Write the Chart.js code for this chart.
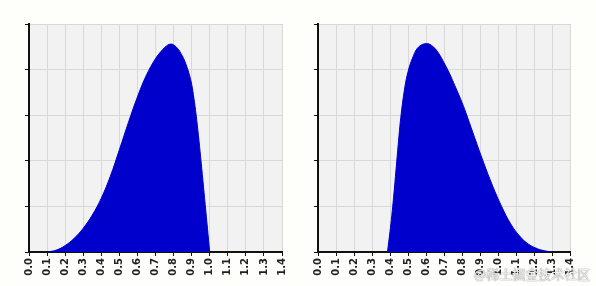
<!DOCTYPE html>
<html>
<head>
<meta charset="utf-8">
<script src="https://cdn.jsdelivr.net/npm/chart.js@4.4.1/dist/chart.umd.min.js"></script>
<style>
  html, body { margin: 0; padding: 0; background: #fefefa; }
  #wrap { position: relative; width: 596px; height: 286px; overflow: hidden; }
  .panel { position: absolute; top: 0; width: 298px; height: 286px; }
  #mark {
    position: absolute; left: 474px; top: 264px;
    font: 13px "Noto Sans CJK SC", sans-serif;
    color: rgba(255,255,255,0.85);
    text-shadow: 0 0 1px #888, 0 0 1px #888;
    white-space: nowrap;
  }
</style>
</head>
<body>
<div id="wrap">
  <div class="panel" style="left:0"><canvas id="left" width="298" height="286"></canvas></div>
  <div class="panel" style="left:298px"><canvas id="right" width="298" height="286"></canvas></div>
  <div id="mark">@稀土掘金技术社区</div>
</div>
<script>
// x tick labels (shared by both panels)
const xTickLabels = ['0.0','0.1','0.2','0.3','0.4','0.5','0.6','0.7','0.8','0.9','1.0','1.1','1.2','1.3','1.4'];

// left curve
const leftX = [0.10, 0.15, 0.20, 0.25, 0.30, 0.35, 0.40, 0.45, 0.50, 0.55, 0.60, 0.65, 0.70, 0.74, 0.765, 0.785, 0.805, 0.825, 0.84, 0.855, 0.87, 0.885, 0.90, 0.9125, 0.925, 0.9375, 0.95, 0.9625, 0.975, 0.9875, 1.00];
const leftY = [0, 0.04, 0.14, 0.30, 0.52, 0.81, 1.18, 1.66, 2.24, 2.84, 3.40, 3.88, 4.24, 4.44, 4.53, 4.56, 4.53, 4.45, 4.36, 4.25, 4.10, 3.92, 3.68, 3.37, 3.0, 2.56, 2.07, 1.56, 1.04, 0.52, 0];

// right curve
const rightX = [0.386, 0.40, 0.41, 0.42, 0.43, 0.44, 0.45, 0.46, 0.48, 0.50, 0.53, 0.56, 0.605, 0.64, 0.67, 0.70, 0.73, 0.76, 0.80, 0.83, 0.87, 0.92, 0.97, 1.02, 1.07, 1.12, 1.17, 1.22, 1.26, 1.30];
const rightY = [0, 0.45, 0.8, 1.2, 1.65, 2.1, 2.55, 2.95, 3.55, 3.95, 4.3, 4.5, 4.57, 4.5, 4.36, 4.15, 3.92, 3.65, 3.28, 2.96, 2.51, 1.96, 1.45, 1.0, 0.62, 0.35, 0.17, 0.07, 0.025, 0];

const plotBg = {
  id: 'plotBg',
  beforeDraw(chart) {
    const a = chart.chartArea, ctx = chart.ctx;
    ctx.save();
    ctx.fillStyle = '#f2f2f2';
    ctx.fillRect(a.left, a.top, a.right - a.left, a.bottom - a.top);
    ctx.restore();
  }
};

function makeChart(id, xs, ys, padLeft, padRight) {
  const pts = xs.map((x, i) => ({ x: x, y: ys[i] }));
  return new Chart(document.getElementById(id), {
    type: 'line',
    data: {
      datasets: [{
        data: pts,
        fill: 'origin',
        backgroundColor: '#0000cc',
        borderColor: '#0000cc',
        borderWidth: 1,
        pointRadius: 0,
        tension: 0.4
      }]
    },
    options: {
      responsive: false,
      animation: false,
      layout: { padding: { left: padLeft, right: padRight, top: 24, bottom: 0 } },
      plugins: { legend: { display: false }, tooltip: { enabled: false } },
      scales: {
        x: {
          type: 'linear', min: 0, max: 1.4,
          afterFit: s => { s.height = 34; },
          afterBuildTicks: s => { s.ticks = xTickLabels.map((t, i) => ({ value: i / 10 })); },
          grid: { color: '#d8d8d8', tickColor: '#111', tickLength: 4, lineWidth: 1 },
          border: { color: '#111', width: 2 },
          ticks: {
            minRotation: 90, maxRotation: 90, padding: 2,
            color: '#222',
            font: { family: 'DejaVu Sans', size: 10, weight: 'bold' },
            callback: (v, i) => xTickLabels[i]
          }
        },
        y: {
          min: 0, max: 5,
          afterFit: s => { s.width = 6; },
          ticks: { display: false, stepSize: 1 },
          grid: { color: '#d8d8d8', tickColor: '#111', tickLength: 4, lineWidth: 1 },
          border: { color: '#111', width: 2 }
        }
      }
    },
    plugins: [plotBg]
  });
}

makeChart('left', leftX, leftY, 23, 16);
makeChart('right', rightX, rightY, 14, 26);
</script>
</body>
</html>
